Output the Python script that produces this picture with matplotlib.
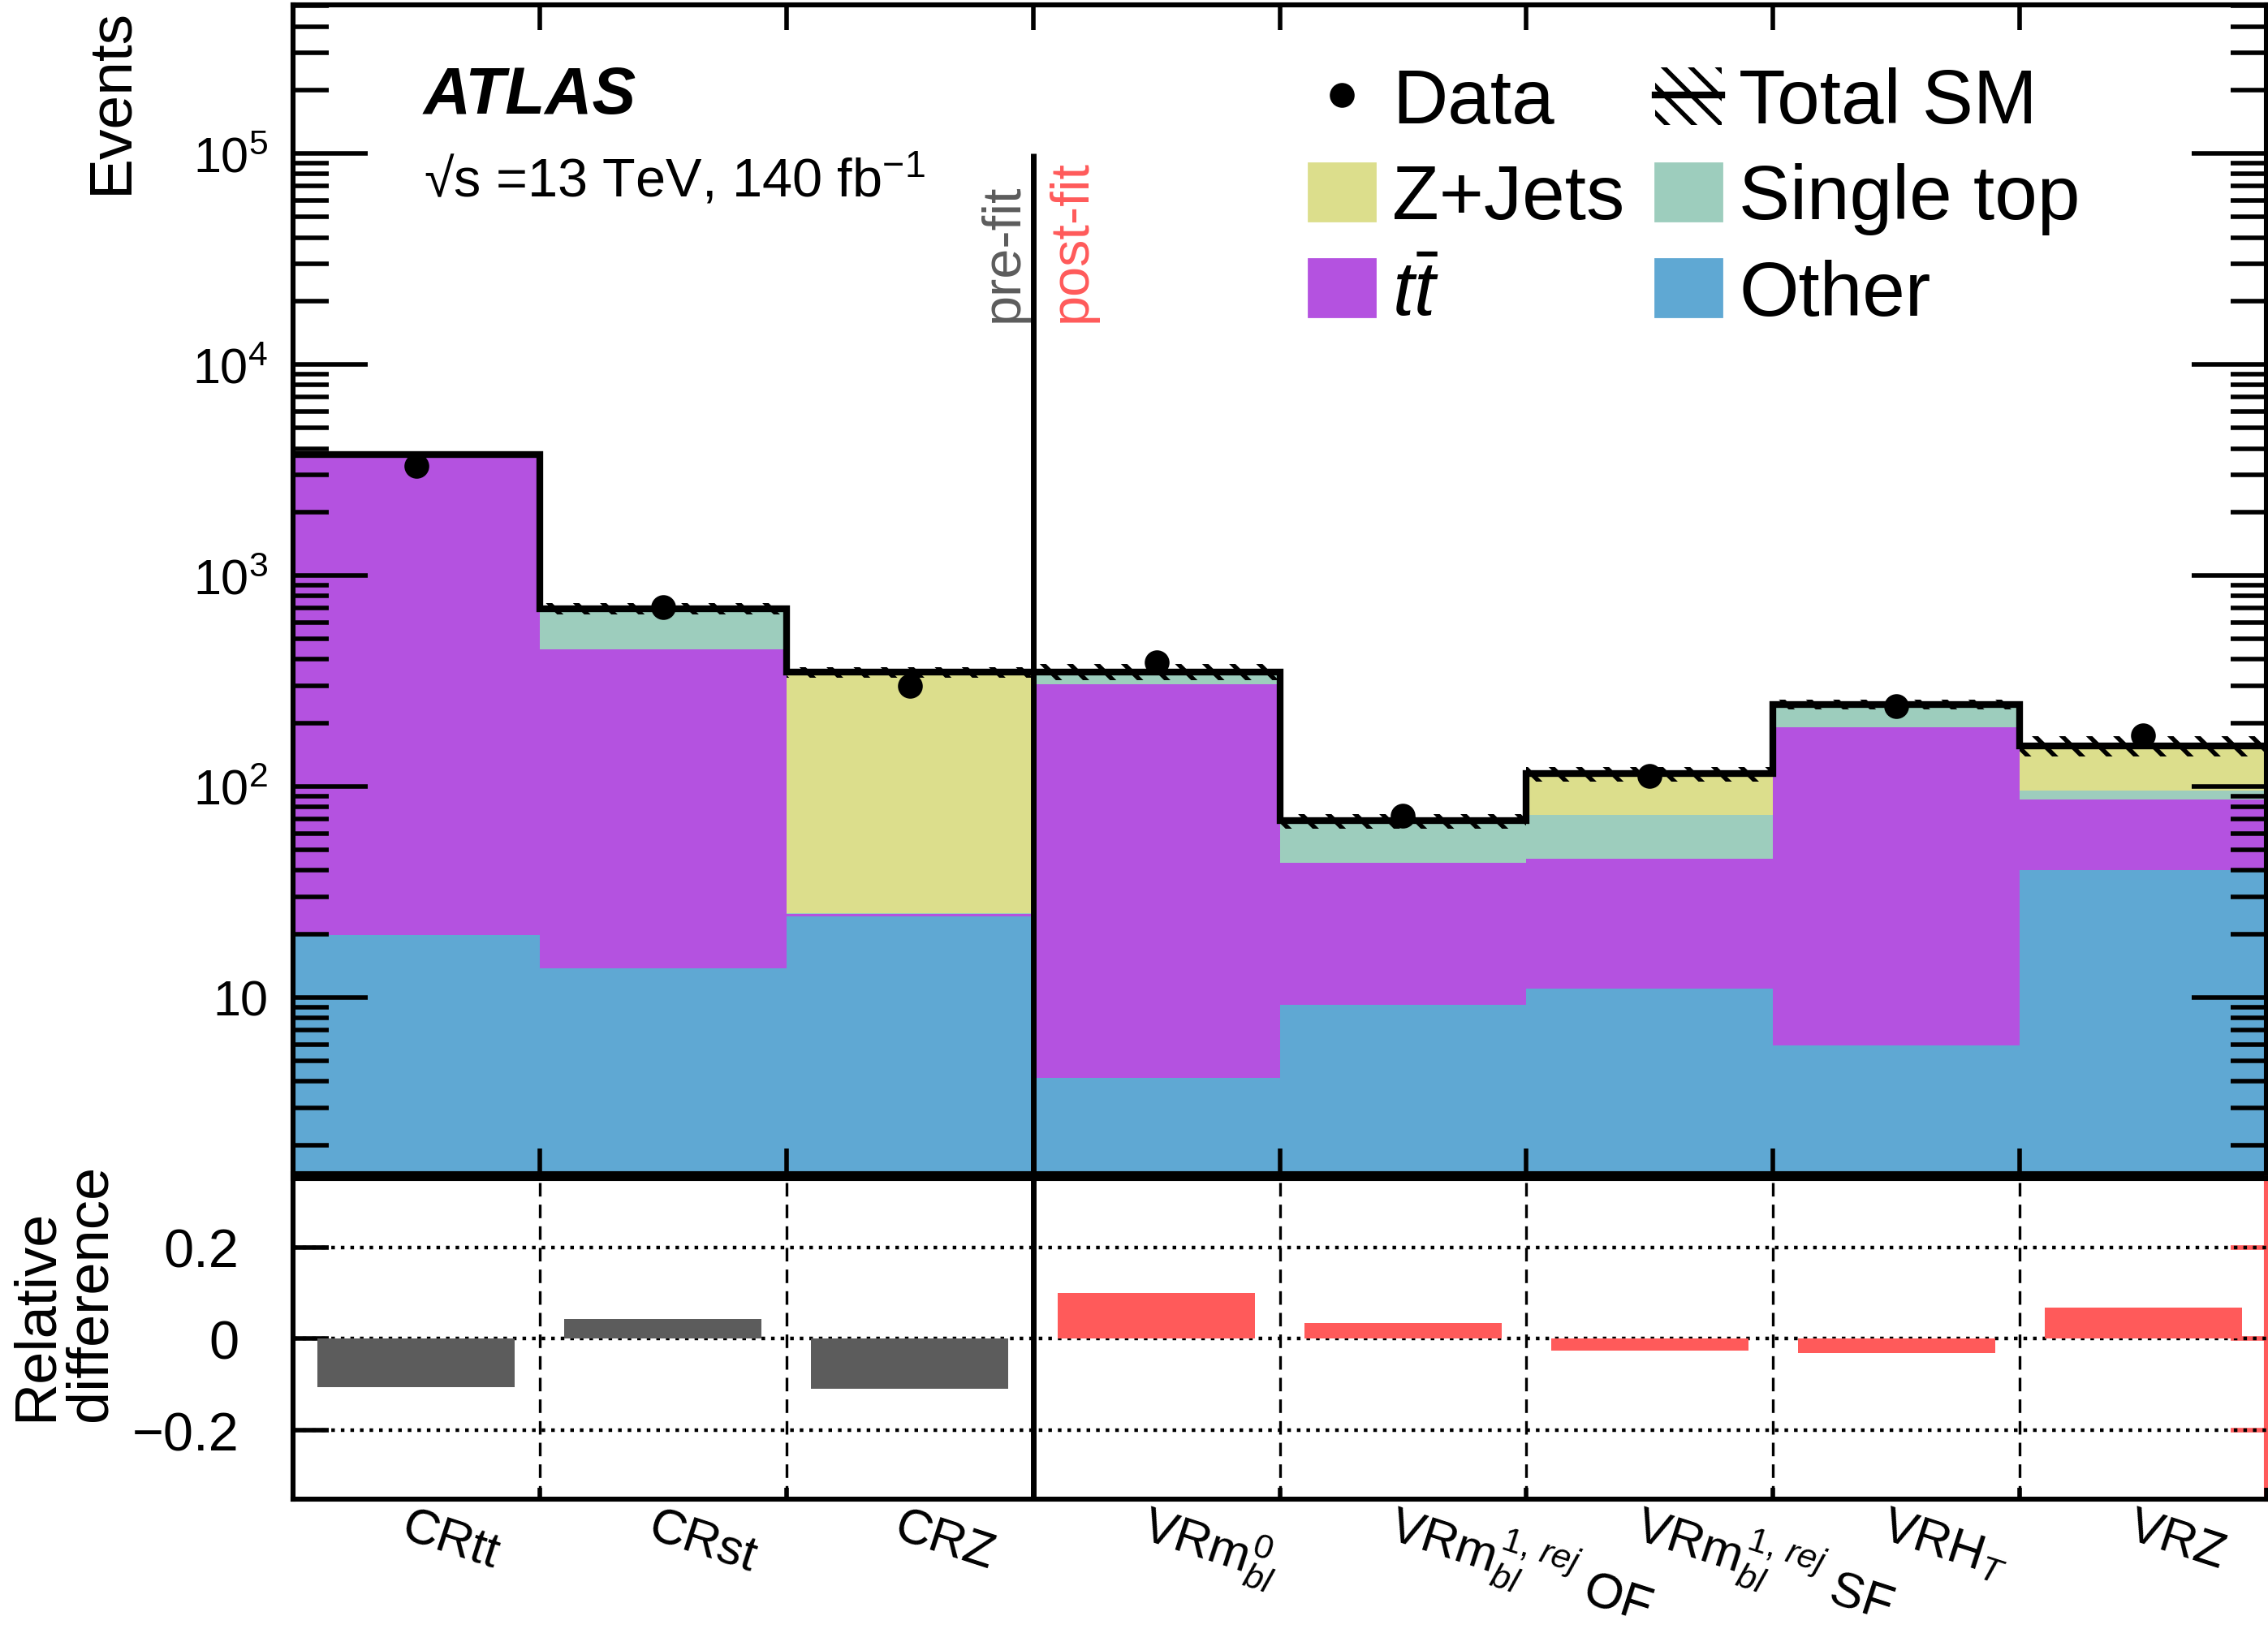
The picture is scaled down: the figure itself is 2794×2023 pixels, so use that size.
import numpy as np
import matplotlib
matplotlib.use('Agg')
import matplotlib.pyplot as plt
from matplotlib.patches import Patch
from matplotlib.lines import Line2D
from matplotlib.ticker import LogLocator, FuncFormatter, NullFormatter, FixedLocator
import matplotlib.transforms as mtransforms

plt.rcParams['font.family'] = ['Liberation Sans', 'DejaVu Sans']
plt.rcParams['mathtext.fontset'] = 'custom'
plt.rcParams['mathtext.rm'] = 'Liberation Sans'
plt.rcParams['mathtext.it'] = 'Liberation Sans:italic'
plt.rcParams['mathtext.bf'] = 'Liberation Sans:bold'
plt.rcParams['hatch.linewidth'] = 2.0

# # # # Data # # # #
regions = ['CRtt', 'CRst', 'CRZ', 'VRmbl0', 'VRmbl1OF', 'VRmbl1SF', 'VRHT', 'VRZ']
tick_labels = ['CRtt', 'CRst', 'CRZ',
               r'VRm$_{bl}^{0}$',
               r'VRm$_{bl}^{1,\,rej}$ OF',
               r'VRm$_{bl}^{1,\,rej}$ SF',
               r'VRH$_{T}$',
               'VRZ']
fit_stage = ['pre', 'pre', 'pre', 'post', 'post', 'post', 'post', 'post']
y_ticks = [10, 1e2, 1e3, 1e4, 1e5]

other = np.array([19.7, 13.7, 24.2, 4.13, 9.25, 11.0, 5.94, 40.1])
ttbar = np.array([3725., 434., 0.6, 302., 34.2, 34.5, 185., 46.6])
single_top = np.array([12., 247., 0.2, 36., 25., 27.5, 54., 8.6])
zjets = np.array([3., 2., 323., 8., 0.3, 42., 0., 60.7])
data = np.array([3310., 705., 301., 388., 73., 112., 240., 174.])
rel_unc = np.array([0.01, 0.065, 0.06, 0.09, 0.08, 0.08, 0.05, 0.11])
rel_diff = np.array([-0.106, 0.044, -0.109, 0.100, 0.034, -0.025, -0.031, 0.069])

c_other = '#5fa8d3'
c_tt = '#b452e0'
c_st = '#9dcdbd'
c_zj = '#dcde8c'
c_pre = '#5c5c5c'
c_post = '#ff5a5a'

n = len(regions)
edges = np.arange(n + 1)
centers = edges[:-1] + 0.5

fig = plt.figure(figsize=(13.97, 10.12), dpi=200)
ax = fig.add_axes([0.1292, 0.285, 0.8701, 0.7115])
axr = fig.add_axes([0.1292, 0.087, 0.8701, 0.1951])

# stacked backgrounds
bottom = np.full(n, 0.01)
for vals, col in [(other, c_other), (ttbar, c_tt), (single_top, c_st), (zjets, c_zj)]:
    top = bottom + vals
    ax.stairs(top, edges, baseline=bottom, fill=True, color=col, lw=0, zorder=1)
    bottom = top
total = bottom

# uncertainty hatch and total line
ax.stairs(total * (1 + rel_unc), edges, baseline=total * (1 - rel_unc), fill=True,
          facecolor='none', edgecolor='k', hatch='\\\\', lw=0, zorder=2)
ax.stairs(total, edges, baseline=None, color='k', lw=3, zorder=3)
ax.plot(centers, data, 'o', color='k', ms=10, ls='none', zorder=4)

ax.set_yscale('log')
ax.set_xlim(0, n)
ax.set_ylim(1.46, 5.06e5)
ax.vlines(3, 1e-3, 1e5, color='k', lw=2.5, zorder=5)
ax.text(2.985, 1.6e4, 'pre-fit', rotation=90, ha='right', va='bottom',
        color=c_pre, fontsize=24)
ax.text(3.055, 1.6e4, 'post-fit', rotation=90, ha='left', va='bottom',
        color=c_post, fontsize=24)

ax.yaxis.set_major_locator(FixedLocator(y_ticks))
ax.yaxis.set_minor_locator(LogLocator(base=10, subs=np.arange(2, 10), numticks=20))
ax.yaxis.set_major_formatter(FuncFormatter(
    lambda v, p: '10' if abs(v - 10) < 1e-6 else r'$\mathregular{10^{%d}}$' % round(np.log10(v))))
ax.yaxis.set_minor_formatter(NullFormatter())
ax.tick_params(axis='y', which='major', direction='in', left=True, right=True,
               length=33, width=2, labelsize=22, pad=11)
ax.tick_params(axis='y', which='minor', direction='in', left=True, right=True,
               length=16, width=2)
ax.xaxis.set_major_locator(FixedLocator(edges))
ax.tick_params(axis='x', which='both', direction='in', top=True, bottom=True,
               length=11, width=2, labelbottom=False)
for s in ax.spines.values():
    s.set_linewidth(2.2)

# legend
h_total = (Patch(facecolor='none', edgecolor='k', hatch='\\\\', lw=0),
           Line2D([], [], color='k', lw=3))
handles = [Line2D([], [], marker='o', color='k', ls='none', ms=10),
           Patch(color=c_zj), Patch(color=c_tt),
           h_total, Patch(color=c_st), Patch(color=c_other)]
labels = ['Data', 'Z+Jets', r'$t\bar{t}$', 'Total SM', 'Single top', 'Other']
fig.legend(handles, labels, loc='upper left', bbox_to_anchor=(0.577, 0.959), ncol=2,
           frameon=False, borderpad=0, borderaxespad=0, fontsize=34,
           handlelength=0.87, handleheight=0.78, handletextpad=0.22,
           columnspacing=0.4, labelspacing=0.31)

fig.text(0.1868, 0.9308, 'ATLAS', fontsize=29, fontweight='bold', fontstyle='italic',
         va='baseline')
fig.text(0.1868, 0.880, '\u221as =13 TeV, 140 fb$^{\\mathregular{-1}}$',
         fontsize=24, va='baseline')
fig.text(0.049, 0.995, 'Events', rotation=90, ha='center', va='top', fontsize=27)

# ratio panel
bar_colors = [c_pre if s == 'pre' else c_post for s in fit_stage]
axr.bar(centers, rel_diff, width=0.8, color=bar_colors, zorder=2)
for yv in [-0.2, 0, 0.2]:
    axr.axhline(yv, color='k', ls=':', lw=1.6, zorder=1)
for xe in edges[1:-1]:
    if xe != 3:
        axr.axvline(xe, color='k', ls=(0, (5, 3)), lw=1.2, zorder=1)
axr.axvline(3, color='k', lw=2.5, zorder=3)
axr.set_xlim(0, n)
axr.set_ylim(-0.35, 0.35)
axr.set_yticks([-0.2, 0, 0.2], labels=['\u22120.2', '0', '0.2'])
axr.tick_params(axis='y', direction='in', length=16, width=2, labelsize=24, pad=24,
                right=False)
axr.xaxis.set_major_locator(FixedLocator(edges))
axr.tick_params(axis='x', direction='in', length=5, width=2, top=False, labelbottom=False)
for s in axr.spines.values():
    s.set_linewidth(2.2)
axr.spines['right'].set_visible(False)
sec = axr.secondary_yaxis('right')
sec.set_yticks([-0.2, 0, 0.2], labels=['', '', ''])
sec.tick_params(direction='in', length=16, width=2, color=c_post)
sec.spines['right'].set_color(c_post)
sec.spines['right'].set_linewidth(2.2)

trans = mtransforms.blended_transform_factory(axr.transData, axr.transAxes)
for c, lab in zip(centers, tick_labels):
    axr.text(c - 0.07, -0.12, lab, transform=trans, rotation=-18,
             rotation_mode='anchor', ha='left', va='baseline', fontsize=22)

fig.text(0.028, 0.135, 'Relative\ndifference', rotation=90, ha='center', va='bottom',
         multialignment='left', linespacing=1.0, fontsize=26)

fig.savefig('out.png', dpi=200)
